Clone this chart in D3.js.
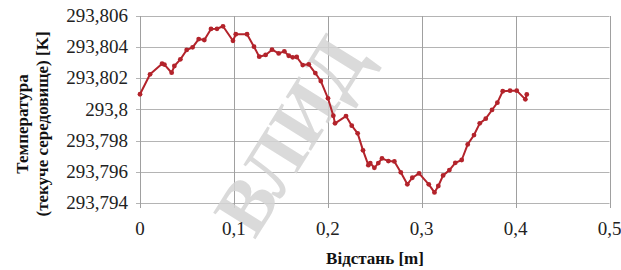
<!DOCTYPE html>
<html><head><meta charset="utf-8">
<script src="https://cdn.jsdelivr.net/npm/d3@7"></script>
<style>html,body{margin:0;padding:0;background:#fff}</style>
</head><body>
<svg id="c" width="621" height="270"></svg>
<script>
const xTicks = [0, 0.1, 0.2, 0.3, 0.4, 0.5];
const yTicks = [293.794, 293.796, 293.798, 293.8, 293.802, 293.804, 293.806];
const xValues = [0, 0.0107, 0.0235, 0.026, 0.0337, 0.0366, 0.043, 0.0497, 0.056, 0.0625, 0.0685, 0.0756, 0.082, 0.0884, 0.099, 0.102, 0.114, 0.1214, 0.127, 0.1338, 0.1406, 0.1477, 0.1537, 0.1584, 0.1626, 0.1669, 0.1733, 0.1797, 0.1867, 0.1925, 0.2002, 0.2059, 0.2077, 0.2194, 0.2255, 0.2318, 0.2375, 0.2432, 0.2452, 0.2496, 0.2538, 0.2577, 0.2645, 0.2709, 0.2777, 0.2847, 0.29, 0.2972, 0.3075, 0.3136, 0.3177, 0.3228, 0.3295, 0.3358, 0.3426, 0.349, 0.3557, 0.3618, 0.3682, 0.3749, 0.3806, 0.3863, 0.3941, 0.4012, 0.4104, 0.4119];
const tempValues = [293.80098, 293.80226, 293.80294, 293.80288, 293.80236, 293.80279, 293.80322, 293.80382, 293.80399, 293.80452, 293.80446, 293.80517, 293.80518, 293.80534, 293.80441, 293.80483, 293.80483, 293.80403, 293.80339, 293.8035, 293.80384, 293.8036, 293.80373, 293.80345, 293.80335, 293.80337, 293.80285, 293.8029, 293.80234, 293.80183, 293.80072, 293.7996, 293.79911, 293.79958, 293.79896, 293.79847, 293.79738, 293.79643, 293.79656, 293.79626, 293.79656, 293.79686, 293.79669, 293.79667, 293.79597, 293.7952, 293.79562, 293.7959, 293.7952, 293.79468, 293.79509, 293.79577, 293.79611, 293.79658, 293.79676, 293.79776, 293.79836, 293.79911, 293.79941, 293.79997, 293.80044, 293.80117, 293.80121, 293.80121, 293.80065, 293.80097];
const xTitle = "Відстань [m]";
const yTitle1 = "Температура";
const yTitle2 = "(текуче середовище) [K]";

const svg = d3.select("#c");
const L = 140, R = 609.5, T = 16, B = 203;
const x = d3.scaleLinear().domain([0, 0.5]).range([L, R]);
const y = d3.scaleLinear().domain([293.794, 293.806]).range([B, T]);
const fmt = d => String(+d.toFixed(3)).replace('.', ',');
const font = "'Liberation Serif','Times New Roman',serif";

// gridlines
svg.append("g").selectAll("line").data(yTicks).join("line")
  .attr("x1", L - 4).attr("x2", R).attr("y1", d => Math.round(y(d)) + 0.5).attr("y2", d => Math.round(y(d)) + 0.5)
  .attr("stroke", "#b4b4b4").attr("stroke-width", 1);
svg.append("g").selectAll("line").data(xTicks).join("line")
  .attr("y1", T).attr("y2", B + 5).attr("x1", d => Math.round(x(d)) + 0.5).attr("x2", d => Math.round(x(d)) + 0.5)
  .attr("stroke", "#a0a0a0").attr("stroke-width", 1);

// watermark
svg.append("text").attr("transform", "translate(290,135) rotate(-58)")
  .attr("text-anchor", "middle").attr("dominant-baseline", "central")
  .attr("font-family", font).attr("font-weight", "bold").attr("font-size", 76)
  .attr("fill", "#d4d4d4").attr("opacity", 0.85).text("ВЛИД");

// tick labels
svg.append("g").selectAll("text").data(yTicks).join("text")
  .attr("x", 128).attr("y", d => y(d) + 6).attr("text-anchor", "end")
  .attr("font-family", font).attr("font-size", 19).attr("fill", "#222").text(fmt);
svg.append("g").selectAll("text").data(xTicks).join("text")
  .attr("x", d => x(d)).attr("y", 235).attr("text-anchor", "middle")
  .attr("font-family", font).attr("font-size", 19).attr("fill", "#222").text(fmt);

// titles
svg.append("text").attr("x", 375).attr("y", 264).attr("text-anchor", "middle")
  .attr("font-family", font).attr("font-weight", "bold").attr("font-size", 17).attr("fill", "#111").text(xTitle);
const yt = svg.append("g").attr("transform", "translate(0,124) rotate(-90)");
yt.append("text").attr("x", 0).attr("y", 28).attr("text-anchor", "middle")
  .attr("font-family", font).attr("font-weight", "bold").attr("font-size", 17).attr("fill", "#111").text(yTitle1);
yt.append("text").attr("x", 0).attr("y", 48).attr("text-anchor", "middle")
  .attr("font-family", font).attr("font-weight", "bold").attr("font-size", 17).attr("fill", "#111").text(yTitle2);

// series
const data = xValues.map((v, i) => [v, tempValues[i]]);
svg.append("path").datum(data)
  .attr("d", d3.line().x(d => x(d[0])).y(d => y(d[1])))
  .attr("fill", "none").attr("stroke", "#b3232b").attr("stroke-width", 2).attr("stroke-linejoin", "round");
svg.append("g").selectAll("circle").data(data).join("circle")
  .attr("cx", d => x(d[0])).attr("cy", d => y(d[1])).attr("r", 2.4).attr("fill", "#b3232b");
</script>
</body></html>
